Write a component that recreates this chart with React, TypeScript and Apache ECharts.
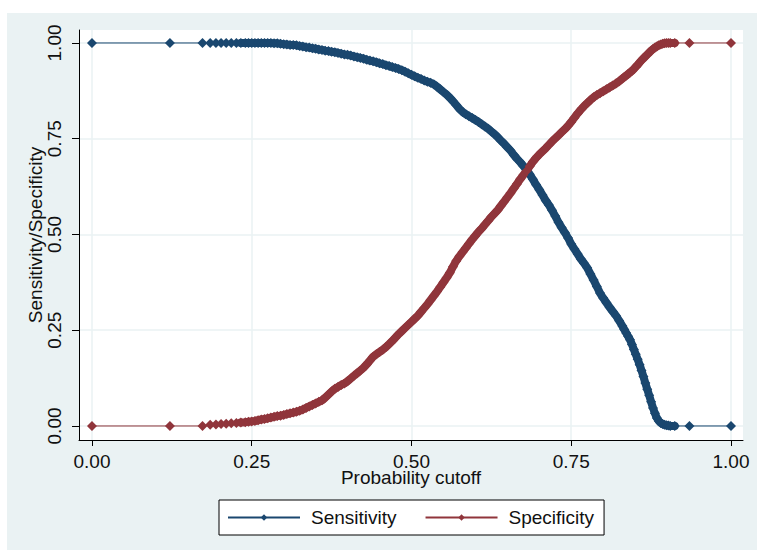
import React, { useEffect, useRef } from "react";
import * as echarts from "echarts";

const tickValues = [0, 0.25, 0.5, 0.75, 1];

const cutoffs = [
  0, 0.122, 0.173, 0.185, 0.194, 0.202, 0.21, 0.218, 0.226, 0.233,
  0.24, 0.245, 0.25, 0.255, 0.26, 0.265, 0.27, 0.275, 0.28, 0.285,
  0.29, 0.295, 0.3, 0.305, 0.31, 0.315, 0.32, 0.325, 0.33, 0.335,
  0.34, 0.345, 0.35, 0.355, 0.36, 0.365, 0.37, 0.375, 0.38, 0.385,
  0.39, 0.395, 0.4, 0.405, 0.41, 0.415, 0.42, 0.425, 0.43, 0.435,
  0.44, 0.445, 0.45, 0.455, 0.46, 0.465, 0.47, 0.475, 0.48, 0.485,
  0.49, 0.495, 0.5, 0.505, 0.51, 0.515, 0.52, 0.525, 0.53, 0.535,
  0.54, 0.545, 0.55, 0.555, 0.56, 0.565, 0.57, 0.575, 0.58, 0.585,
  0.59, 0.595, 0.6, 0.605, 0.61, 0.615, 0.62, 0.625, 0.63, 0.635,
  0.64, 0.645, 0.65, 0.655, 0.66, 0.665, 0.67, 0.675, 0.68, 0.685,
  0.69, 0.695, 0.7, 0.705, 0.71, 0.715, 0.72, 0.725, 0.73, 0.735,
  0.74, 0.745, 0.75, 0.755, 0.76, 0.765, 0.77, 0.775, 0.78, 0.785,
  0.79, 0.795, 0.8, 0.805, 0.81, 0.815, 0.82, 0.825, 0.83, 0.833,
  0.836, 0.839, 0.842, 0.845, 0.848, 0.851, 0.854, 0.857, 0.86, 0.863,
  0.866, 0.869, 0.872, 0.875, 0.878, 0.881, 0.884, 0.887, 0.89, 0.893,
  0.896, 0.899, 0.902, 0.905, 0.912, 0.935, 1,
];

const sensitivity = [
  1, 1, 1, 1, 1, 1, 1, 1, 1, 1,
  1, 1, 1, 1, 1, 1, 1, 1, 1, 0.999,
  0.999, 0.998, 0.997, 0.996, 0.995, 0.995, 0.994, 0.992, 0.991, 0.989,
  0.988, 0.986, 0.985, 0.983, 0.982, 0.98, 0.979, 0.977, 0.976, 0.974,
  0.972, 0.97, 0.969, 0.967, 0.965, 0.963, 0.961, 0.959, 0.956, 0.954,
  0.952, 0.95, 0.947, 0.945, 0.942, 0.94, 0.937, 0.935, 0.932, 0.929,
  0.925, 0.921, 0.917, 0.913, 0.909, 0.906, 0.902, 0.899, 0.896, 0.892,
  0.886, 0.879, 0.872, 0.865, 0.857, 0.848, 0.838, 0.828, 0.82, 0.814,
  0.809, 0.804, 0.799, 0.794, 0.788, 0.782, 0.776, 0.769, 0.762, 0.754,
  0.745, 0.737, 0.728, 0.719, 0.708, 0.698, 0.689, 0.679, 0.669, 0.657,
  0.644, 0.63, 0.617, 0.603, 0.589, 0.577, 0.563, 0.548, 0.532, 0.518,
  0.505, 0.491, 0.475, 0.462, 0.449, 0.436, 0.425, 0.413, 0.397, 0.381,
  0.364, 0.347, 0.334, 0.322, 0.31, 0.299, 0.288, 0.275, 0.261, 0.252,
  0.243, 0.234, 0.225, 0.213, 0.2, 0.187, 0.174, 0.16, 0.145, 0.129,
  0.112, 0.096, 0.08, 0.063, 0.047, 0.033, 0.021, 0.013, 0.008, 0.005,
  0.003, 0.002, 0.001, 0, 0, 0, 0,
];

const specificity = [
  0, 0, 0, 0.003, 0.004, 0.005, 0.006, 0.007, 0.008, 0.009,
  0.01, 0.011, 0.012, 0.013, 0.015, 0.017, 0.018, 0.02, 0.022, 0.024,
  0.026, 0.027, 0.029, 0.031, 0.033, 0.035, 0.037, 0.04, 0.043, 0.047,
  0.051, 0.055, 0.059, 0.063, 0.067, 0.074, 0.082, 0.09, 0.097, 0.102,
  0.107, 0.111, 0.117, 0.124, 0.131, 0.138, 0.145, 0.152, 0.161, 0.171,
  0.181, 0.187, 0.193, 0.199, 0.206, 0.214, 0.222, 0.231, 0.24, 0.248,
  0.256, 0.264, 0.272, 0.28, 0.288, 0.298, 0.308, 0.318, 0.329, 0.34,
  0.351, 0.363, 0.375, 0.387, 0.4, 0.416, 0.431, 0.443, 0.454, 0.465,
  0.476, 0.487, 0.497, 0.507, 0.516, 0.526, 0.536, 0.546, 0.555, 0.564,
  0.575, 0.586, 0.597, 0.608, 0.62, 0.632, 0.644, 0.655, 0.666, 0.678,
  0.69, 0.7, 0.709, 0.717, 0.725, 0.734, 0.743, 0.751, 0.759, 0.767,
  0.775, 0.784, 0.794, 0.805, 0.816, 0.826, 0.835, 0.843, 0.851, 0.858,
  0.864, 0.869, 0.874, 0.879, 0.884, 0.889, 0.894, 0.9, 0.907, 0.911,
  0.915, 0.919, 0.923, 0.927, 0.932, 0.938, 0.943, 0.949, 0.955, 0.96,
  0.965, 0.97, 0.975, 0.98, 0.984, 0.988, 0.991, 0.994, 0.996, 0.998,
  0.999, 1, 1, 1, 1, 1, 1,
];

// index range of the densely packed cutoffs (markers overlap into a solid band)
const DENSE_START = 9;
const DENSE_END = 155;

const NAVY = "#1A476F";
const MAROON = "#90353B";
const BG = "#EAF2F3";
const FONT = "'Liberation Sans', Arial, sans-serif";
const TEXT = "#111111";

export default function App() {
  const ref = useRef<HTMLDivElement>(null);

  useEffect(() => {
    if (!ref.current) return;
    const chart = echarts.init(ref.current, null, { renderer: "svg" });
    const sensData = cutoffs.map((c, i) => [c, sensitivity[i]]);
    const specData = cutoffs.map((c, i) => [c, specificity[i]]);

    const markerSeries = (name: string, data: number[][], color: string) => ({
      name,
      type: "line",
      data,
      symbol: "diamond",
      symbolSize: 10,
      showAllSymbol: true,
      color,
      itemStyle: { color },
      lineStyle: { color, width: 1 },
    });
    const bandSeries = (name: string, data: number[][], color: string) => ({
      name,
      type: "line",
      data: data.slice(DENSE_START, DENSE_END),
      symbol: "none",
      color,
      lineStyle: { color, width: 8, cap: "round", join: "round" },
      silent: true,
    });

    chart.setOption({
      animation: false,
      backgroundColor: "#ffffff",
      textStyle: { fontFamily: FONT },
      graphic: [
        {
          type: "rect",
          z: -10,
          silent: true,
          shape: { x: 7, y: 13, width: 750, height: 537 },
          style: { fill: BG },
        },
      ],
      grid: {
        left: 79,
        top: 30,
        right: 14,
        bottom: 110,
        show: true,
        backgroundColor: "#ffffff",
        borderWidth: 0,
      },
      legend: {
        left: 219,
        top: 500,
        padding: [8, 10, 8, 8],
        backgroundColor: "#ffffff",
        borderColor: "#000000",
        borderWidth: 1,
        borderRadius: 0,
        itemWidth: 72,
        itemHeight: 8,
        itemGap: 28,
        textStyle: {
          fontFamily: FONT,
          fontSize: 19,
          color: TEXT,
          padding: [0, 0, 0, 6],
        },
        data: ["Sensitivity", "Specificity"],
      },
      xAxis: {
        type: "value",
        min: -0.0203,
        max: 1.0188,
        name: "Probability cutoff",
        nameLocation: "middle",
        nameGap: 28,
        nameMoveOverlap: false,
        nameTextStyle: { fontFamily: FONT, fontSize: 19, color: TEXT },
        axisLine: { show: true, onZero: false, lineStyle: { color: "#000", width: 1 } },
        axisTick: { show: true, length: 6, customValues: tickValues, lineStyle: { color: "#000" } },
        axisLabel: {
          customValues: tickValues,
          margin: 12,
          fontFamily: FONT,
          fontSize: 19,
          color: TEXT,
          formatter: (v: number) => v.toFixed(2),
        },
        splitLine: { show: true, lineStyle: { color: BG, width: 1.5 } },
      },
      yAxis: {
        type: "value",
        min: -0.0366,
        max: 1.0339,
        name: "Sensitivity/Specificity",
        nameLocation: "middle",
        nameRotate: 90,
        nameGap: 34,
        nameMoveOverlap: false,
        nameTextStyle: { fontFamily: FONT, fontSize: 19, color: TEXT },
        axisLine: { show: true, onZero: false, lineStyle: { color: "#000", width: 1 } },
        axisTick: { show: true, length: 7, customValues: tickValues, lineStyle: { color: "#000" } },
        axisLabel: {
          customValues: tickValues,
          rotate: 90,
          margin: 15,
          fontFamily: FONT,
          fontSize: 19,
          color: TEXT,
          formatter: (v: number) => v.toFixed(2),
        },
        splitLine: { show: true, lineStyle: { color: BG, width: 1.5 } },
      },
      series: [
        markerSeries("Sensitivity", sensData, NAVY),
        bandSeries("Sensitivity", sensData, NAVY),
        markerSeries("Specificity", specData, MAROON),
        bandSeries("Specificity", specData, MAROON),
      ],
    });

    return () => chart.dispose();
  }, []);

  return (
    <div
      ref={ref}
      style={{ position: "fixed", left: 0, top: 0, width: 757, height: 550 }}
    />
  );
}
